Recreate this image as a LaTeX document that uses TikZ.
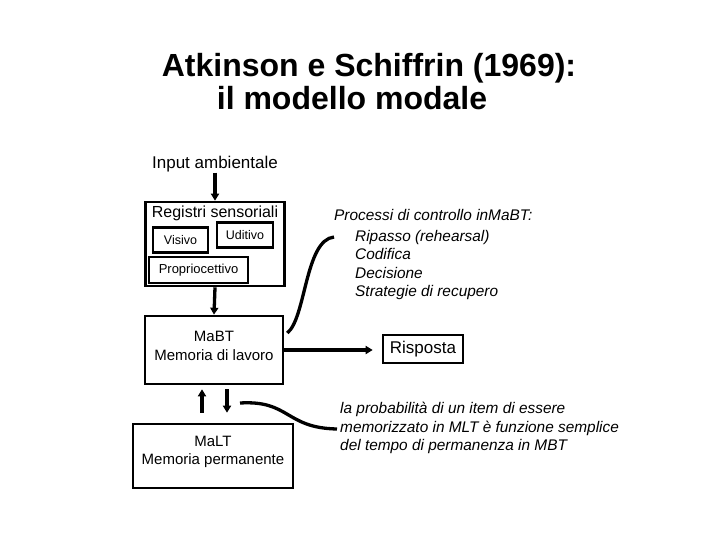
\documentclass[tikz,border=0pt]{standalone}
\usepackage{fontspec}
\setmainfont{Liberation Sans}
\usepackage{tikz}
\usetikzlibrary{positioning,arrows.meta}

\begin{document}
\begin{tikzpicture}[x=1pt,y=-1pt,
  box/.style={draw,line width=2.6pt,inner sep=0pt,align=center},
  arr/.style={line width=3.3pt,-{Triangle[length=7pt,width=8pt]}},
  link/.style={line width=3.3pt},
  txt/.style={inner sep=0pt,align=center,font=\fontsize{15}{18.5}\selectfont},
  note/.style={inner sep=0pt,font=\fontsize{15.4}{18.5}\selectfont\itshape,align=left},
  head/.style={inner sep=0pt,anchor=base,font=\fontsize{32}{36}\selectfont\bfseries}]
\useasboundingbox (0,0) rectangle (720,540);
\node[head] (title1) at (369,77) {Atkinson e Schiffrin (1969):};
\node[head] (title2) at (352,110) {il modello modale};
\node[txt,anchor=base,font=\fontsize{17}{20}\selectfont] (input) at (215,169) {Input ambientale};
\node[box,minimum width=139pt,minimum height=84pt] (reg) at (215,244) {};
\node[txt,anchor=base,font=\fontsize{16}{19}\selectfont] (regtitle) at (215,218) {Registri sensoriali};
\node[box,minimum width=55pt,minimum height=25pt,font=\fontsize{12.5}{15}\selectfont] (visivo) at (180.5,240) {Visivo};
\node[box,minimum width=56pt,minimum height=25pt,font=\fontsize{12.5}{15}\selectfont] (uditivo) at (245,235) {Uditivo};
\node[box,minimum width=99pt,minimum height=26pt,font=\fontsize{13}{15}\selectfont] (proprio) at (198.5,270) {Propriocettivo};
\node[box,minimum width=138pt,minimum height=68pt] (mabt) at (214,350) {};
\node[txt] (mabtlab) at (214,346) {MaBT\\Memoria di lavoro};
\node[box,minimum width=80pt,minimum height=28pt,font=\fontsize{17}{20}\selectfont] (risposta) at (423,349) {Risposta};
\node[box,minimum width=160pt,minimum height=64pt] (malt) at (213,456) {};
\node[txt,font=\fontsize{15}{18}\selectfont] (maltlab) at (213,451.5) {MaLT\\Memoria permanente};
\node[note,anchor=base west] (ctrltitle) at (334,221) {Processi di controllo inMaBT:};
\node[note,anchor=north west] (ctrl) at (355,230) {Ripasso (rehearsal)\\Codifica\\Decisione\\Strategie di recupero};
\node[note,anchor=north west] (prob) at (340,402) {la probabilità di un item di essere\\memorizzato in MLT è funzione semplice\\del tempo di permanenza in MBT};
\coordinate (upx) at (202,0);
\coordinate (downx) at (227,0);
\coordinate (ctrlend) at (334,237);
\coordinate (probstart) at (240,403);
\coordinate (probend) at (337,429);
\draw[arr] (input.south) -- (reg.north);
\draw[arr] (reg.south) -- (mabt.north);
\draw[arr,shorten >=9pt] (mabt.east) -- (mabt.east -| risposta.west);
\draw[arr,shorten <=10pt,shorten >=4pt] (malt.north -| upx) -- (mabt.south -| upx);
\draw[arr,shorten <=4pt,shorten >=10pt] (mabt.south -| downx) -- (malt.north -| downx);
\draw[link] ([shift={(3,-17)}]mabt.east) .. controls (306,318) and (305,240) .. (ctrlend);
\draw[link] (probstart) .. controls (290,400) and (285,428) .. (probend);
\end{tikzpicture}
\end{document}
